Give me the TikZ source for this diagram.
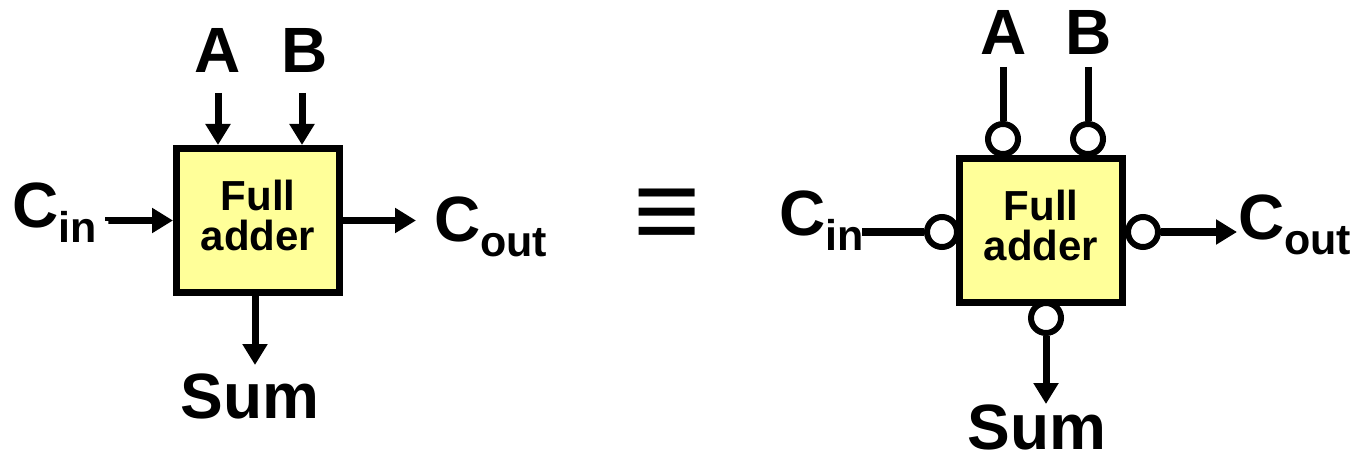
\documentclass[tikz,border=0pt]{standalone}
\usepackage{fontspec}
\setmainfont{Liberation Sans}
\usetikzlibrary{arrows.meta}
\definecolor{fayellow}{HTML}{FFFF99}
\begin{document}
\begin{tikzpicture}[x=1pt,y=-1pt,
  fabox/.style={draw=black,line width=7pt,fill=fayellow,minimum width=163pt,minimum height=144pt,inner sep=0pt},
  fatext/.style={font=\fontsize{42}{40}\selectfont\bfseries,align=center,inner sep=0pt},
  wire/.style={line width=7pt},
  arr/.style={line width=7pt,-{Triangle[width=24pt,length=21pt]}},
  bubble/.style={circle,draw=black,line width=6pt,fill=white,minimum size=30pt,inner sep=0pt},
  lbl/.style={font=\fontsize{64}{64}\selectfont\bfseries,inner sep=0pt},
]
\useasboundingbox (0,0) rectangle (1357,457);
\newcommand{\subtxt}[1]{\raisebox{-15pt}{\fontsize{43}{43}\selectfont #1}}

% ---------- left diagram ----------
\node[fabox] (box1) at (258,220.5) {};
\node[fatext] (t1) at (258,215.5) {Full\\adder};

\node[lbl,anchor=base] (la) at (218,73) {A};
\node[lbl,anchor=base] (lb) at (305,73) {B};
\node[lbl,anchor=base] (lsum) at (250,418) {Sum};
\node[lbl,anchor=base west] (lcin) at (12,227) {C\subtxt{in}};
\node[lbl,anchor=base west] (lcout) at (434,241) {C\subtxt{out}};

\coordinate (aS) at (218,93);
\coordinate (bS) at (302,93);
\coordinate (cinS) at (108,221);
\coordinate (coutT) at (416,221);
\coordinate (sumT) at (255,365);

\draw[arr] (aS) -- (aS |- box1.north);
\draw[arr] (bS) -- (bS |- box1.north);
\draw[arr] (cinS) -- (cinS |- box1.west) -- (box1.west);
\draw[arr] (box1.east) -- (coutT |- box1.east);
\draw[arr] (sumT |- box1.south) -- (sumT);

% ---------- equivalence ----------
\node[inner sep=0pt,font=\fontsize{96}{96}\selectfont] (eq) at (667,219) {\scalebox{1.2}[1.15]{≡}};

% ---------- right diagram ----------
\node[fabox] (box2) at (1041,230.5) {};
\node[fatext] (t2) at (1041,225) {Full\\adder};

\node[bubble] (bA) at (1003,139) {};
\node[bubble] (bB) at (1088,139) {};
\node[bubble] (bCin) at (942,232) {};
\node[bubble] (bCout) at (1143,232) {};
\node[bubble] (bSum) at (1046,318) {};

\node[lbl,anchor=base] (ra) at (1004,55) {A};
\node[lbl,anchor=base] (rb) at (1089,55) {B};
\node[lbl,anchor=base] (rsum) at (1037,449) {Sum};
\node[lbl,anchor=base west] (rcin) at (779,236) {C\subtxt{in}};
\node[lbl,anchor=base west] (rcout) at (1238,240) {C\subtxt{out}};

\coordinate (aS2) at (1003,67);
\coordinate (bS2) at (1088,67);
\coordinate (cinS2) at (862,232);
\coordinate (coutT2) at (1237,232);
\coordinate (sumT2) at (1046,404);

\draw[wire] (aS2) -- (bA.north);
\draw[wire] (bS2) -- (bB.north);
\draw[wire] (cinS2) -- (bCin.west);
\draw[arr] (bCout.east) -- (coutT2);
\draw[arr] (bSum.south) -- (sumT2);
\end{tikzpicture}
\end{document}
